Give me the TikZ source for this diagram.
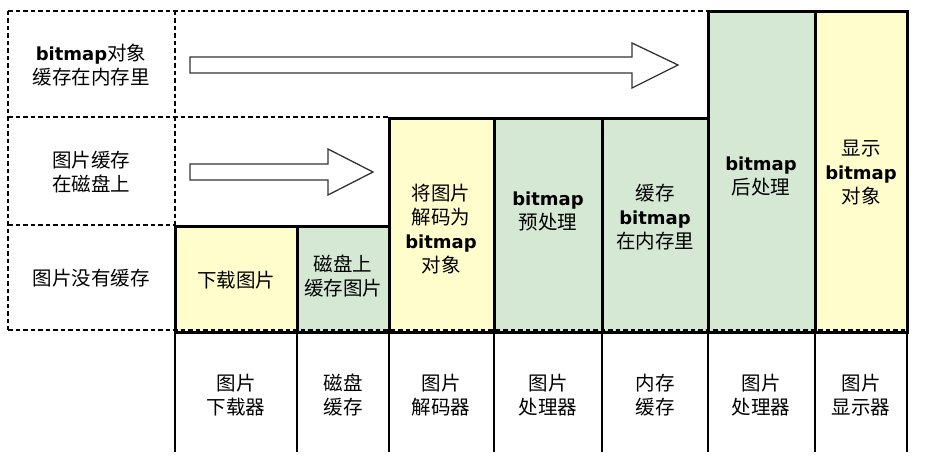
\documentclass[tikz,border=0pt]{standalone}
\usepackage{fontspec}
\setmainfont{Noto Sans CJK SC}
\newfontfamily\latinfont{DejaVu Sans}
\definecolor{stageyellow}{RGB}{255,253,204}
\definecolor{stagegreen}{RGB}{213,232,212}
\newcommand{\bmp}{{\latinfont\bfseries\fontsize{18}{24}\selectfont bitmap}}
\tikzset{
  every node/.style={font=\fontsize{19.5}{24}\selectfont, align=center, inner sep=0pt, outer sep=0pt},
  stagebox/.style={draw, line width=3pt, anchor=north west},
  gridline/.style={line width=1.5pt, dash pattern=on 4.5pt off 3pt},
  bigarrow/.style={draw=black!80, line width=1.3pt, fill=white},
  toolline/.style={line width=1.5pt},
}

\begin{document}
\begin{tikzpicture}[x=1pt,y=-1pt]
  \useasboundingbox (0,0) rectangle (929,460);

  % dashed frame of the cache levels
  \draw [gridline] (8,11) -- (8,330);
  \draw [gridline] (8,11) -- (708,11);
  \draw [gridline] (8,117) -- (389,117);
  \draw [gridline] (8,225) -- (175,225);
  \draw [gridline] (175,11) -- (175,226);

  \node (lvl-mem) at (91,65) {\bmp 对象\\缓存在内存里};
  \node (lvl-disk) at (91,172) {图片缓存\\在磁盘上};
  \node (lvl-none) at (91,278) {图片没有缓存};

  % skip arrows
  \draw [bigarrow] (190,57) -- (632,57) -- (632,43) -- (678,65) -- (632,88) -- (632,73) -- (190,73) -- cycle;
  \draw [bigarrow] (190,164) -- (328,164) -- (328,149) -- (373,172) -- (328,195) -- (328,180) -- (190,180) -- cycle;

  % stages
  \node [stagebox, fill=stageyellow, minimum width=122pt, minimum height=106pt] (dl) at (175,226) {};
  \node [stagebox, fill=stagegreen, minimum width=92pt, minimum height=106pt] (dc) at (297,226) {};
  \node [stagebox, fill=stageyellow, minimum width=105pt, minimum height=214pt] (dec) at (389,118) {};
  \node [stagebox, fill=stagegreen, minimum width=108pt, minimum height=214pt] (pre) at (494,118) {};
  \node [stagebox, fill=stagegreen, minimum width=106pt, minimum height=214pt] (mem) at (602,118) {};
  \node [stagebox, fill=stagegreen, minimum width=107pt, minimum height=320pt] (post) at (708,12) {};
  \node [stagebox, fill=stageyellow, minimum width=92pt, minimum height=320pt] (show) at (815,12) {};
  \draw [gridline] (8,330) -- (907,330);

  \node (dl-t) at (236,280) {下载图片};
  \node (dc-t) at (343,276) {磁盘上\\缓存图片};
  \node (dec-t) at (441,229) {将图片\\解码为\\\bmp\\对象};
  \node (pre-t) at (548,211) {\bmp\\预处理};
  \node (mem-t) at (655,217) {缓存\\\bmp\\在内存里};
  \node (post-t) at (761,176) {\bmp\\后处理};
  \node (show-t) at (861,173) {显示\\\bmp\\对象};

  % tools row
  \draw [toolline] (dl.south west) -- ++(0,120);
  \draw [toolline] (dc.south west) -- ++(0,120);
  \draw [toolline] (dec.south west) -- ++(0,120);
  \draw [toolline] (pre.south west) -- ++(0,120);
  \draw [toolline] (mem.south west) -- ++(0,120);
  \draw [toolline] (post.south west) -- ++(0,120);
  \draw [toolline] (show.south west) -- ++(0,120);
  \draw [toolline] (show.south east) -- ++(0,120);

  \node (dl-n) at (236,395) {图片\\下载器};
  \node (dc-n) at (343,395) {磁盘\\缓存};
  \node (dec-n) at (441,395) {图片\\解码器};
  \node (pre-n) at (548,395) {图片\\处理器};
  \node (mem-n) at (655,395) {内存\\缓存};
  \node (post-n) at (761,395) {图片\\处理器};
  \node (show-n) at (861,395) {图片\\显示器};
\end{tikzpicture}
\end{document}
